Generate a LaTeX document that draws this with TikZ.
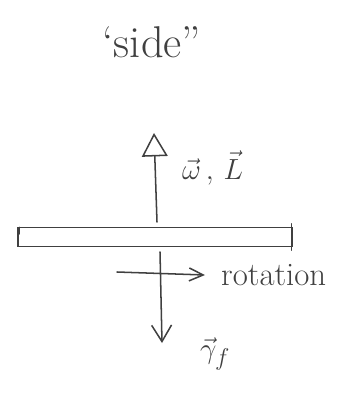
\documentclass[tikz,border=0pt]{standalone}
\usetikzlibrary{arrows.meta}
\begin{document}
\begin{tikzpicture}[x=0.03cm,y=-0.03cm,
  pencil/.style={draw=black!75,line width=1.3pt,line cap=round},
  lbl/.style={text=black!75,inner sep=0pt},
  barbox/.style={pencil,line width=1.1pt,minimum width=8.22cm,minimum height=0.55cm,inner sep=0pt},
]
\useasboundingbox (0,0) rectangle (341,395);
% title
\node[lbl,font=\fontsize{38}{40}\selectfont] (title) at (152,42) {`side''};
% bar
\node[barbox] (bar) at (155,237) {};
\draw[pencil,line width=0.9pt] ([xshift=2pt]bar.north west) -- ([xshift=2pt,yshift=-6pt]bar.north west);
\draw[pencil,line width=0.9pt] ([xshift=-1pt,yshift=3pt]bar.north east) -- ([xshift=-1pt,yshift=-3pt]bar.south east);
% up arrow (omega, L)
\coordinate (wbase) at (157,222);
\coordinate (wtip) at (154,133);
\draw[pencil,-{Triangle[open,length=20pt,width=22pt]}] (wbase) -- (wtip);
\node[lbl,font=\fontsize{28}{30}\selectfont,anchor=west] (wl) at (182,168) {$\vec{\omega}\,,\,\vec{L}$};
% down arrow (gamma_f)
\coordinate (gbase) at (160,252);
\coordinate (gtip) at (162,343);
\draw[pencil,-{Straight Barb[length=14pt,width=17pt]}] (gbase) -- (gtip);
\node[lbl,font=\fontsize{32}{34}\selectfont,anchor=west] (gl) at (200,354) {$\vec{\gamma}_{f}$};
% rotation arrow
\coordinate (rstart) at (117,272);
\coordinate (rend) at (205,275);
\draw[pencil,-{Straight Barb[length=12pt,width=11pt]}] (rstart) -- (rend);
\node[lbl,font=\fontsize{28}{30}\selectfont,anchor=west] (rl) at (221,275) {rotation};
\end{tikzpicture}
\end{document}
